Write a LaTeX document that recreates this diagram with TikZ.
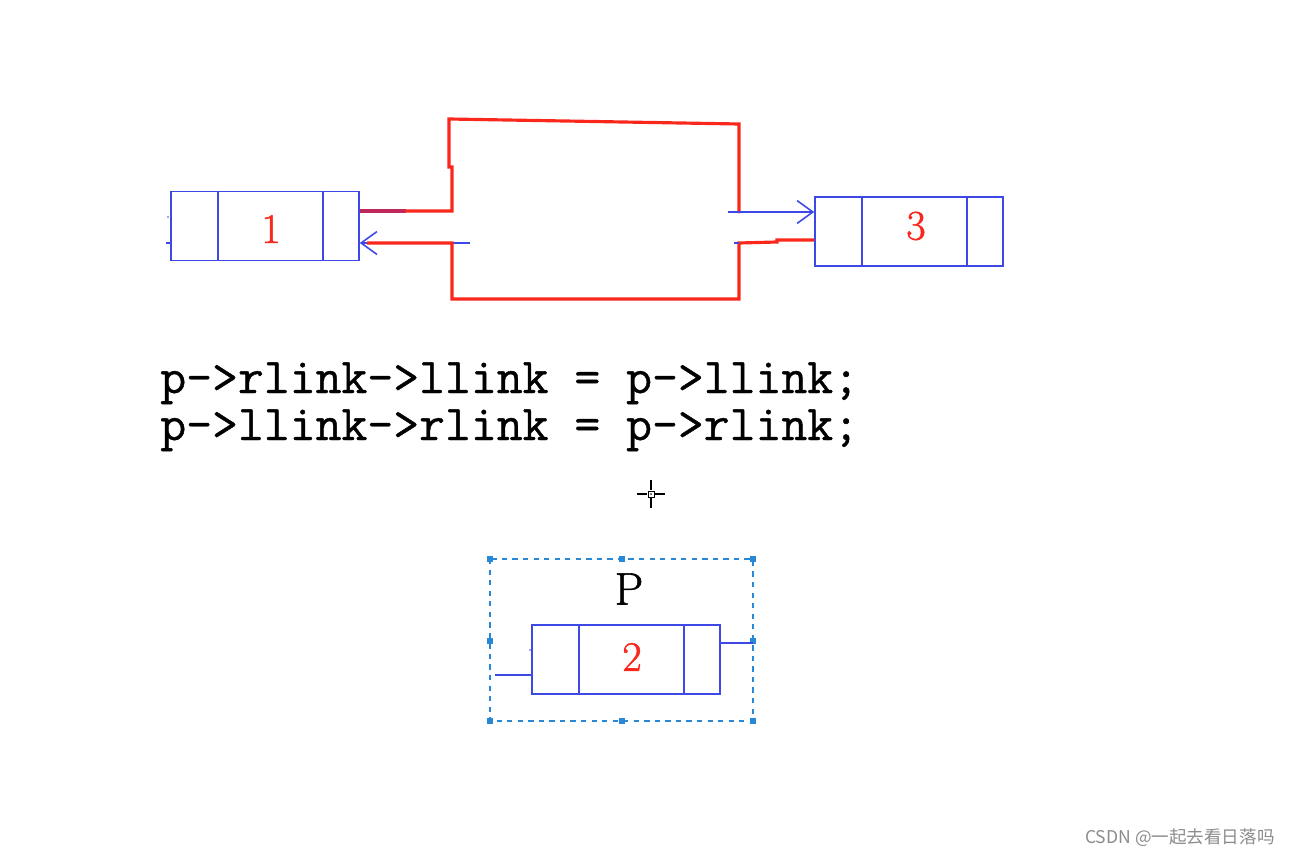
\documentclass[tikz,border=0pt]{standalone}
\usepackage{fontspec}
\setmainfont{Latin Modern Roman}
\newfontfamily\codefont[FakeBold=0.8]{Latin Modern Mono}
\newfontfamily\numfont[FakeBold=1.2]{Latin Modern Roman}
\newfontfamily\cjk{Noto Sans CJK SC}
\usetikzlibrary{arrows.meta}
\definecolor{cellblue}{RGB}{62,72,228}
\definecolor{linkred}{RGB}{250,40,28}
\definecolor{selblue}{RGB}{40,136,214}
\definecolor{mixline}{RGB}{190,40,90}
\tikzset{
  cell/.style={draw=cellblue, line width=0.9pt, minimum width=3.76cm, minimum height=1.38cm, inner sep=0pt},
  divider/.style={draw=cellblue, line width=0.9pt},
  num/.style={text=linkred, font=\numfont\fontsize{24pt}{24pt}\selectfont, inner sep=0pt},
  redlink/.style={draw=linkred, line width=1.8pt},
  bluelink/.style={draw=cellblue, line width=0.9pt},
  barb/.style={-{Straight Barb[length=9pt,width=13pt,line width=0.9pt]}},
  selbox/.style={draw=selblue, line width=0.9pt, dash pattern=on 3pt off 3pt},
  handle/.style={fill=selblue, minimum size=3pt, inner sep=0pt},
  code/.style={font=\codefont\fontsize{28.6pt}{30pt}\selectfont, inner sep=0pt, anchor=base west},
}
\begin{document}
\begin{tikzpicture}[x=0.02cm,y=-0.02cm]
\useasboundingbox[fill=white] (0,0) rectangle (1290,858);

% node 1
\node[cell] (n1) at (265,226) {};
\draw[divider] (218,191) -- (218,261) (323,191) -- (323,261);
\node[num] (l1) at (271,229) {1};
\coordinate (m1a) at (168,217);
\fill[cellblue] (m1a) circle (0.8);
\draw[bluelink] (166,243) -- (n1.west |- 0,243);

% node 3
\node[cell] (n3) at (909,231.5) {};
\draw[divider] (862,197) -- (862,266) (967,197) -- (967,266);
\node[num] (l3) at (916,226) {3};

% top red link 1 -> 3
\coordinate (t1) at (452,211);
\coordinate (t2) at (452,167);
\coordinate (t3) at (449,167);
\coordinate (t4) at (449,119);
\coordinate (t5) at (739,124);
\coordinate (t6) at (739,212);
\draw[line width=1.8pt, draw=mixline] (n1.east |- 0,211) -- (406,211);
\draw[redlink, line cap=round] (406,211) -- (t1) -- (t2) -- (t3) -- (t4) -- (t5) -- (t6);
\coordinate (ta) at (728,212);
\draw[bluelink, barb] (ta) -- (n3.west |- 0,212);

% bottom red link 3 -> 1
\coordinate (b0) at (739,243);
\coordinate (b1) at (739,299);
\coordinate (b2) at (452,299);
\coordinate (b3) at (452,243);
\coordinate (bs) at (470,243);
\draw[bluelink, barb] (bs) -- (n1.east |- 0,243);
\draw[redlink] (n3.west |- 0,240) -- (777,240) -- (777,242) -- (b0) -- (b1) -- (b2) -- (b3) -- (367,243);
\draw[bluelink] (734,243) -- (b0);

% code
\node[code] (c1) at (160,393) {p->rlink->llink = p->llink;};
\node[code] (c2) at (160,440) {p->llink->rlink = p->rlink;};

% cursor
\coordinate (cur) at (651,494);
\draw[black, line width=0.7pt] (637,494) -- (647,494) (655,494) -- (665,494) (651,480) -- (651,490) (651,498) -- (651,508);
\draw[black, line width=0.5pt] (648,491) rectangle (654,497);
\fill[black] (cur) circle (0.9);

% selection box with node 2
\draw[selbox] (490,559) rectangle (753,721);
\foreach \hx/\hy [count=\i] in {490/559,622/559,753/559,490/641,753/641,490/721,622/721,753/721}
  \node[handle] (h\i) at (\hx,\hy) {};
\node[font=\numfont\fontsize{26pt}{26pt}\selectfont, inner sep=0pt] (P) at (629,589) {P};
\node[cell] (n2) at (626,659.5) {};
\draw[divider] (579,625) -- (579,694) (684,625) -- (684,694);
\node[num] (l2) at (632,657) {2};
\coordinate (pl) at (495,675);
\coordinate (pr) at (753,643);
\draw[bluelink] (pl) -- (n2.west |- 0,675);
\draw[bluelink] (n2.east |- 0,643) -- (pr);
\fill[cellblue] (530,650) circle (0.8);

% watermark
\node[text=black!45, font=\cjk\fontsize{10pt}{10pt}\selectfont, anchor=east, inner sep=0pt] (wm) at (1275,838) {CSDN @一起去看日落吗};
\end{tikzpicture}
\end{document}
